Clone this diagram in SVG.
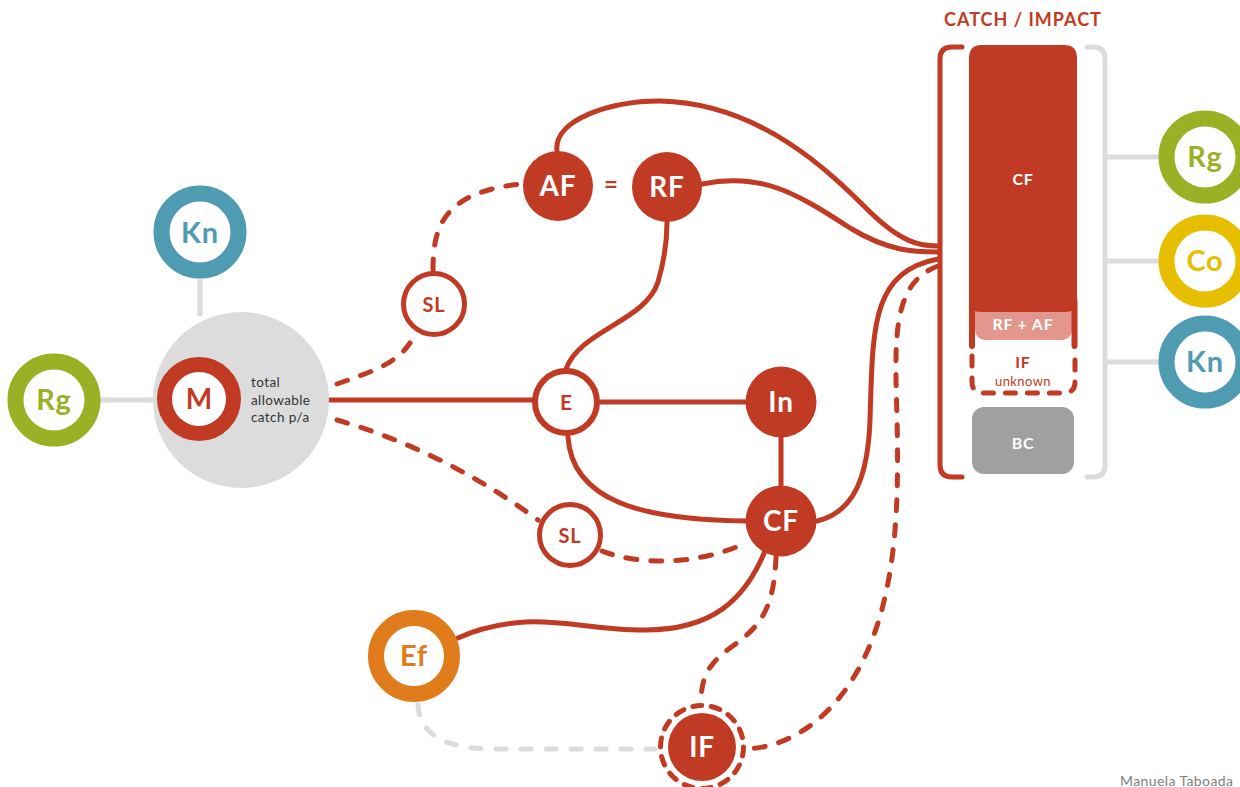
<svg xmlns="http://www.w3.org/2000/svg" width="1240" height="787" viewBox="0 0 1240 787">
<style>
text{font-family:Lato,"Open Sans","Liberation Sans",sans-serif;font-weight:700;text-anchor:middle}
.r{fill:none;stroke:#C13A24;stroke-width:5;stroke-linecap:round}
.rd{fill:none;stroke:#C13A24;stroke-width:5;stroke-linecap:round;stroke-dasharray:11 14}
.g{fill:none;stroke:#DCDCDC;stroke-width:5}
.gd{fill:none;stroke:#DCDCDC;stroke-width:5;stroke-linecap:round;stroke-dasharray:10 15}
.ring{fill:#fff;stroke-width:16}
.fill{fill:#C13A24}
.wt{fill:#fff}
.rt{fill:#C13A24}
.lbl{font-weight:400;text-anchor:start;letter-spacing:0.4px}
.sp{letter-spacing:0.8px}
</style>
<rect width="1240" height="787" fill="#fff"/>

<g id="connectors">
<line class="g" x1="200" y1="279" x2="200" y2="316"/>
<line class="g" x1="100" y1="400" x2="160" y2="400"/>
<line class="g" x1="1107" y1="157" x2="1160" y2="157"/>
<line class="g" x1="1107" y1="261" x2="1160" y2="261"/>
<line class="g" x1="1107" y1="362" x2="1160" y2="362"/>
<path class="gd" d="M418,705 C420,735 445,749 495,749 L655,749"/>
<line class="r" x1="328" y1="400" x2="533" y2="400"/>
<line class="r" x1="600" y1="402" x2="746" y2="402"/>
<line class="r" x1="781" y1="436" x2="781" y2="488"/>
<path class="r" d="M568,437 C572,500 640,520 746,521"/>
<path class="r" d="M566,369 C580,330 645,322 658,282 C665,258 667,238 667,222"/>
<path class="r" d="M702,184 C760,172 795,192 850,228 C890,252 915,252 938,252"/>
<path class="r" d="M557,151 C553,120 610,101 660,101 C760,103 830,172 870,212 C902,243 920,246 938,246"/>
<path class="r" d="M817,521 C855,512 868,475 870,420 C873,330 870,272 938,259"/>
<path class="rd" d="M938,266 C900,280 895,320 896,380 C898,460 903,560 872,640 C845,710 795,748 744,749"/>
<path class="r" d="M765,551 C745,600 712,630 645,630 C595,630 565,620 525,622 C495,624 475,630 458,638"/>
<path class="rd" d="M776,557 C774,610 760,627 730,648 C705,666 701,682 701,704"/>
<path class="rd" d="M337,384 C370,372 395,365 410,343"/>
<path class="rd" d="M433,270 C433,228 442,192 522,184"/>
<path class="rd" d="M337,420 C400,438 470,470 538,520"/>
<path class="rd" d="M602,551 C640,566 700,565 748,542"/>
</g>

<g id="M-group">
<circle cx="241" cy="400" r="88" fill="#DCDCDC"/>
<circle cx="199" cy="399" r="34.5" fill="#fff" stroke="#C13A24" stroke-width="15"/>
<text x="199" y="409" font-size="28" class="rt">M</text>
<text x="251" y="387" font-size="13.5" fill="#333" class="lbl">total</text>
<text x="251" y="405" font-size="13.5" fill="#333" class="lbl">allowable</text>
<text x="251" y="422" font-size="13.5" fill="#333" class="lbl">catch p/a</text>
</g>

<g id="Kn-left">
<circle class="ring" cx="200" cy="232" r="38.5" stroke="#4F9CB2"/>
<text x="200" y="243" font-size="29" fill="#4F9CB2" class="sp">Kn</text>
</g>
<g id="Rg-left">
<circle class="ring" cx="54" cy="400" r="38.5" stroke="#9AB025"/>
<text x="54" y="410" font-size="29" fill="#9AB025" class="sp">Rg</text>
</g>

<g id="SL-top">
<circle cx="434" cy="304" r="30.5" fill="#fff" stroke="#C13A24" stroke-width="5"/>
<text x="434" y="312" font-size="20" class="rt sp">SL</text>
</g>
<g id="AF">
<circle class="fill" cx="558" cy="186" r="35"/>
<text x="558" y="196" font-size="28" class="wt sp">AF</text>
</g>
<text x="611" y="193" font-size="24" class="rt">=</text>
<g id="RF">
<circle class="fill" cx="667" cy="187" r="35"/>
<text x="667" y="197" font-size="28" class="wt sp">RF</text>
</g>
<g id="E">
<circle cx="566" cy="402" r="31" fill="#fff" stroke="#C13A24" stroke-width="6"/>
<text x="566" y="410" font-size="21" class="rt">E</text>
</g>
<g id="In">
<circle class="fill" cx="781" cy="402" r="35.5"/>
<text x="781" y="412" font-size="28" class="wt sp">In</text>
</g>
<g id="CF">
<circle class="fill" cx="781" cy="521" r="35.5"/>
<text x="781" y="531" font-size="28" class="wt sp">CF</text>
</g>
<g id="SL-bottom">
<circle cx="570" cy="535" r="30.5" fill="#fff" stroke="#C13A24" stroke-width="5"/>
<text x="570" y="543" font-size="20" class="rt sp">SL</text>
</g>
<g id="Ef">
<circle class="ring" cx="414" cy="656" r="38" stroke="#E07C1B"/>
<text x="414" y="666" font-size="29" fill="#E07C1B" class="sp">Ef</text>
</g>
<g id="IF">
<circle class="fill" cx="702" cy="747" r="34"/>
<circle cx="702" cy="747" r="41.5" fill="none" stroke="#C13A24" stroke-width="5" stroke-linecap="round" stroke-dasharray="9 9.6"/>
<text x="702" y="757" font-size="28" class="wt sp">IF</text>
</g>

<g id="catch-impact">
<text x="1023" y="26" font-size="18" class="rt" style="letter-spacing:1px">CATCH / IMPACT</text>
<path d="M962,47 H952 Q940,47 940,59 V465 Q940,477 952,477 H962" fill="none" stroke="#C13A24" stroke-width="5" stroke-linecap="round"/>
<path d="M1087,47 H1093 Q1105,47 1105,59 V465 Q1105,477 1093,477 H1087" fill="none" stroke="#DCDCDC" stroke-width="5" stroke-linecap="round"/>
<rect x="975" y="290" width="97" height="50" rx="10" fill="#E3968B"/>
<path d="M969,58 Q969,45 982,45 H1064 Q1077,45 1077,58 V300 Q1077,312 1065,312 H981 Q969,312 969,300 Z" fill="#C13A24"/>
<line x1="972" y1="300" x2="972" y2="346" stroke="#C13A24" stroke-width="6" stroke-linecap="round"/>
<line x1="1074.5" y1="300" x2="1074.5" y2="346" stroke="#C13A24" stroke-width="6" stroke-linecap="round"/>
<path d="M972,356 V382 Q972,393 984,393 H1063 Q1075,393 1075,382 V356" fill="none" stroke="#C13A24" stroke-width="5" stroke-linecap="round" stroke-dasharray="10 12"/>
<text x="1023" y="185" font-size="16" class="wt sp">CF</text>
<text x="1023" y="330" font-size="16" class="wt sp">RF + AF</text>
<text x="1023" y="368" font-size="16" class="rt sp">IF</text>
<text x="1023" y="386" font-size="13" class="rt" style="font-weight:400;letter-spacing:0.4px">unknown</text>
<rect x="972" y="407" width="102" height="67" rx="12" fill="#A0A0A0"/>
<text x="1023" y="449" font-size="16" class="wt sp">BC</text>
</g>

<g id="Rg-right">
<circle class="ring" cx="1205" cy="157" r="38.5" stroke="#9AB025"/>
<text x="1205" y="167" font-size="29" fill="#9AB025" class="sp">Rg</text>
</g>
<g id="Co-right">
<circle class="ring" cx="1205" cy="261" r="38.5" stroke="#E8BE00"/>
<text x="1205" y="271" font-size="29" fill="#E8BE00" class="sp">Co</text>
</g>
<g id="Kn-right">
<circle class="ring" cx="1205" cy="362" r="38.5" stroke="#4F9CB2"/>
<text x="1205" y="372" font-size="29" fill="#4F9CB2" class="sp">Kn</text>
</g>

<text x="1120" y="786" font-size="14" fill="#808080" class="lbl">Manuela Taboada</text>
</svg>
